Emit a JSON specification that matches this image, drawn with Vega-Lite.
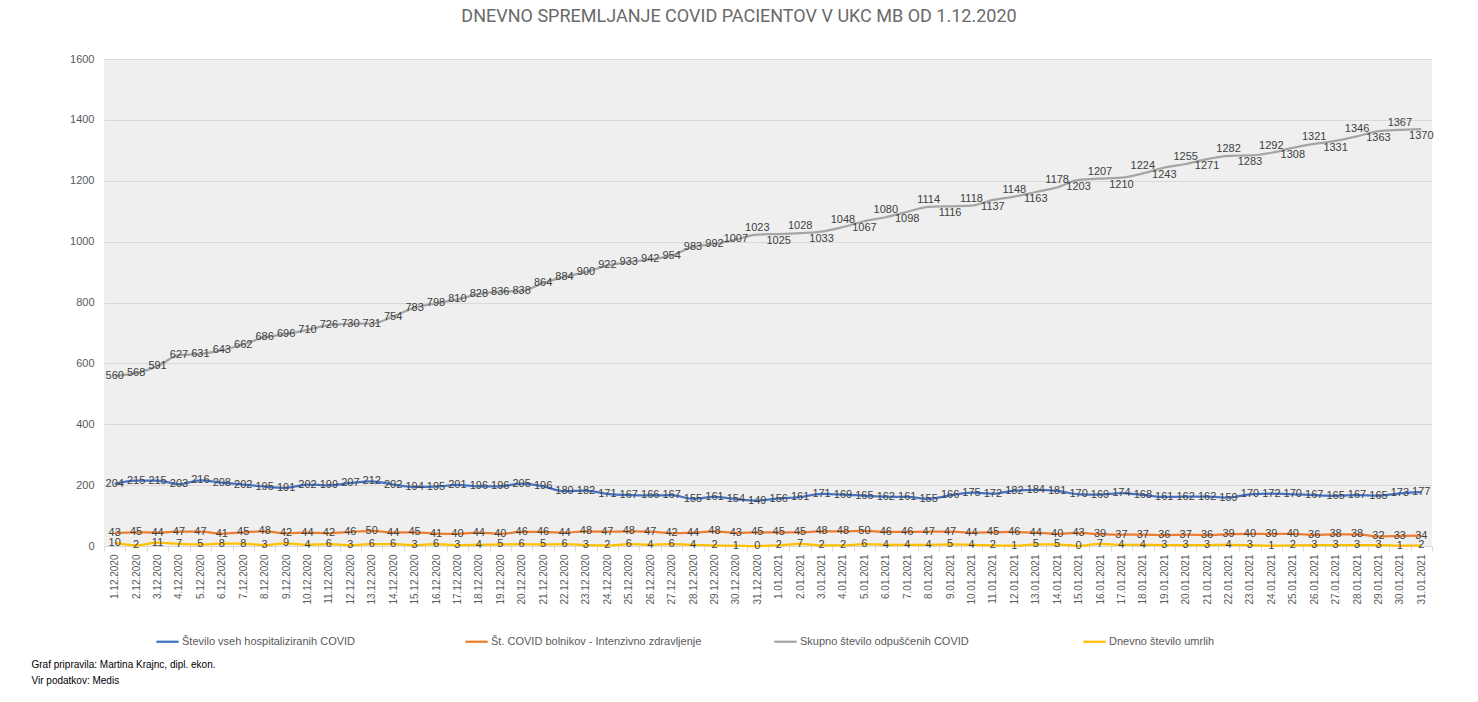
{
  "$schema": "https://vega.github.io/schema/vega-lite/v6.json",
  "width": 1328,
  "height": 487,
  "autosize": {"type": "none"},
  "padding": {"left": 104, "top": 59, "right": 46, "bottom": 156},
  "background": "white",
  "title": {
    "text": "DNEVNO SPREMLJANJE COVID PACIENTOV V UKC MB OD 1.12.2020",
    "font": "Liberation Sans Narrow, Roboto, sans-serif",
    "fontSize": 18,
    "fontWeight": "normal",
    "color": "#6a6a6a",
    "offset": 27,
    "dx": -29
  },
  "data": {
    "values": [
      {"d":"1.12.2020","h":204,"i":43,"o":560,"u":10},
      {"d":"2.12.2020","h":215,"i":45,"o":568,"u":2},
      {"d":"3.12.2020","h":215,"i":44,"o":591,"u":11},
      {"d":"4.12.2020","h":203,"i":47,"o":627,"u":7},
      {"d":"5.12.2020","h":216,"i":47,"o":631,"u":5},
      {"d":"6.12.2020","h":208,"i":41,"o":643,"u":8},
      {"d":"7.12.2020","h":202,"i":45,"o":662,"u":8},
      {"d":"8.12.2020","h":195,"i":48,"o":686,"u":3},
      {"d":"9.12.2020","h":191,"i":42,"o":696,"u":9},
      {"d":"10.12.2020","h":202,"i":44,"o":710,"u":4},
      {"d":"11.12.2020","h":199,"i":42,"o":726,"u":6},
      {"d":"12.12.2020","h":207,"i":46,"o":730,"u":3},
      {"d":"13.12.2020","h":212,"i":50,"o":731,"u":6},
      {"d":"14.12.2020","h":202,"i":44,"o":754,"u":6},
      {"d":"15.12.2020","h":194,"i":45,"o":783,"u":3},
      {"d":"16.12.2020","h":195,"i":41,"o":798,"u":6},
      {"d":"17.12.2020","h":201,"i":40,"o":810,"u":3},
      {"d":"18.12.2020","h":196,"i":44,"o":828,"u":4},
      {"d":"19.12.2020","h":196,"i":40,"o":836,"u":5},
      {"d":"20.12.2020","h":205,"i":46,"o":838,"u":6},
      {"d":"21.12.2020","h":196,"i":46,"o":864,"u":5},
      {"d":"22.12.2020","h":180,"i":44,"o":884,"u":6},
      {"d":"23.12.2020","h":182,"i":48,"o":900,"u":3},
      {"d":"24.12.2020","h":171,"i":47,"o":922,"u":2},
      {"d":"25.12.2020","h":167,"i":48,"o":933,"u":6},
      {"d":"26.12.2020","h":166,"i":47,"o":942,"u":4},
      {"d":"27.12.2020","h":167,"i":42,"o":954,"u":6},
      {"d":"28.12.2020","h":155,"i":44,"o":983,"u":4},
      {"d":"29.12.2020","h":161,"i":48,"o":992,"u":2},
      {"d":"30.12.2020","h":154,"i":43,"o":1007,"u":1},
      {"d":"31.12.2020","h":149,"i":45,"o":1023,"u":0},
      {"d":"1.01.2021","h":156,"i":45,"o":1025,"u":2},
      {"d":"2.01.2021","h":161,"i":45,"o":1028,"u":7},
      {"d":"3.01.2021","h":171,"i":48,"o":1033,"u":2},
      {"d":"4.01.2021","h":169,"i":48,"o":1048,"u":2},
      {"d":"5.01.2021","h":165,"i":50,"o":1067,"u":6},
      {"d":"6.01.2021","h":162,"i":46,"o":1080,"u":4},
      {"d":"7.01.2021","h":161,"i":46,"o":1098,"u":4},
      {"d":"8.01.2021","h":155,"i":47,"o":1114,"u":4},
      {"d":"9.01.2021","h":166,"i":47,"o":1116,"u":5},
      {"d":"10.01.2021","h":175,"i":44,"o":1118,"u":4},
      {"d":"11.01.2021","h":172,"i":45,"o":1137,"u":2},
      {"d":"12.01.2021","h":182,"i":46,"o":1148,"u":1},
      {"d":"13.01.2021","h":184,"i":44,"o":1163,"u":5},
      {"d":"14.01.2021","h":181,"i":40,"o":1178,"u":5},
      {"d":"15.01.2021","h":170,"i":43,"o":1203,"u":0},
      {"d":"16.01.2021","h":169,"i":39,"o":1207,"u":7},
      {"d":"17.01.2021","h":174,"i":37,"o":1210,"u":4},
      {"d":"18.01.2021","h":168,"i":37,"o":1224,"u":4},
      {"d":"19.01.2021","h":161,"i":36,"o":1243,"u":3},
      {"d":"20.01.2021","h":162,"i":37,"o":1255,"u":3},
      {"d":"21.01.2021","h":162,"i":36,"o":1271,"u":3},
      {"d":"22.01.2021","h":159,"i":39,"o":1282,"u":4},
      {"d":"23.01.2021","h":170,"i":40,"o":1283,"u":3},
      {"d":"24.01.2021","h":172,"i":39,"o":1292,"u":1},
      {"d":"25.01.2021","h":170,"i":40,"o":1308,"u":2},
      {"d":"26.01.2021","h":167,"i":36,"o":1321,"u":3},
      {"d":"27.01.2021","h":165,"i":38,"o":1331,"u":3},
      {"d":"28.01.2021","h":167,"i":38,"o":1346,"u":3},
      {"d":"29.01.2021","h":165,"i":32,"o":1363,"u":3},
      {"d":"30.01.2021","h":173,"i":33,"o":1367,"u":1},
      {"d":"31.01.2021","h":177,"i":34,"o":1370,"u":2}
    ]
  },
  "transform": [
    {"window": [{"op": "row_number", "as": "idx"}]},
    {"fold": ["h", "i", "o", "u"], "as": ["key", "value"]}
  ],
  "encoding": {
    "x": {
      "field": "d",
      "type": "ordinal",
      "sort": null,
      "scale": {"type": "band", "paddingInner": 0, "paddingOuter": 0},
      "axis": {
        "labelAngle": -90,
        "labelFontSize": 10,
        "labelColor": "#595959",
        "labelFont": "Liberation Sans, Arial, sans-serif",
        "labelPadding": 3,
        "tickBand": "extent",
        "tickColor": "#d9d9d9",
        "tickSize": 5,
        "domainColor": "#d9d9d9",
        "grid": false,
        "title": ["Graf pripravila: Martina Krajnc, dipl. ekon.", "Vir podatkov: Medis"],
        "titleFont": "Liberation Sans, Arial, sans-serif",
        "titleFontSize": 10,
        "titleFontWeight": "normal",
        "titleColor": "#000000",
        "titleAlign": "left",
        "titleAnchor": "start",
        "titleBaseline": "top",
        "titleX": -73,
        "titleY": 113,
        "titleLineHeight": 16
      }
    },
    "y": {
      "field": "value",
      "type": "quantitative",
      "scale": {"domain": [0, 1600], "nice": false},
      "axis": {
        "values": [0, 200, 400, 600, 800, 1000, 1200, 1400, 1600],
        "format": "d",
        "labelFontSize": 11,
        "labelColor": "#595959",
        "labelFont": "Liberation Sans, Arial, sans-serif",
        "labelPadding": 10,
        "ticks": false,
        "domain": false,
        "gridColor": "#d9d9d9",
        "title": null
      }
    }
  },
  "layer": [
    {
      "mark": {"type": "line", "strokeWidth": 2.25, "interpolate": "monotone"},
      "encoding": {
        "color": {
          "field": "key",
          "type": "nominal",
          "scale": {"domain": ["h", "i", "o", "u"], "range": ["#4472C4", "#ED7D31", "#A5A5A5", "#FFC000"]},
          "legend": {
            "orient": "none",
            "legendX": 51,
            "legendY": 570,
            "direction": "horizontal",
            "columns": 4,
            "gridAlign": "all",
            "columnPadding": 67,
            "symbolType": "stroke",
            "symbolSize": 500,
            "symbolStrokeWidth": 2.25,
            "labelFont": "Liberation Sans Narrow, Liberation Sans, Arial, sans-serif",
            "labelFontSize": 11,
            "labelColor": "#595959",
            "labelLimit": 400,
            "labelOffset": 2,
            "title": null,
            "labelExpr": "datum.label == 'h' ? 'Število vseh hospitaliziranih COVID' : datum.label == 'i' ? 'Št. COVID bolnikov - Intenzivno zdravljenje' : datum.label == 'o' ? 'Skupno število odpuščenih COVID' : 'Dnevno število umrlih'"
          }
        }
      }
    },
    {
      "transform": [{"filter": "datum.key != 'o' || datum.idx < 31"}],
      "mark": {"type": "text", "fontSize": 11, "color": "#404040", "font": "Liberation Sans, Arial, sans-serif", "baseline": "middle", "align": "center"},
      "encoding": {"text": {"field": "value", "type": "quantitative"}}
    },
    {
      "transform": [{"filter": "datum.key == 'o' && datum.idx >= 31 && datum.idx % 2 == 1"}],
      "mark": {"type": "text", "fontSize": 11, "color": "#404040", "font": "Liberation Sans, Arial, sans-serif", "baseline": "middle", "align": "center", "dy": -7},
      "encoding": {"text": {"field": "value", "type": "quantitative"}}
    },
    {
      "transform": [{"filter": "datum.key == 'o' && datum.idx >= 31 && datum.idx % 2 == 0"}],
      "mark": {"type": "text", "fontSize": 11, "color": "#404040", "font": "Liberation Sans, Arial, sans-serif", "baseline": "middle", "align": "center", "dy": 7},
      "encoding": {"text": {"field": "value", "type": "quantitative"}}
    }
  ],
  "config": {
    "view": {"fill": "#efefef", "stroke": null}
  }
}
